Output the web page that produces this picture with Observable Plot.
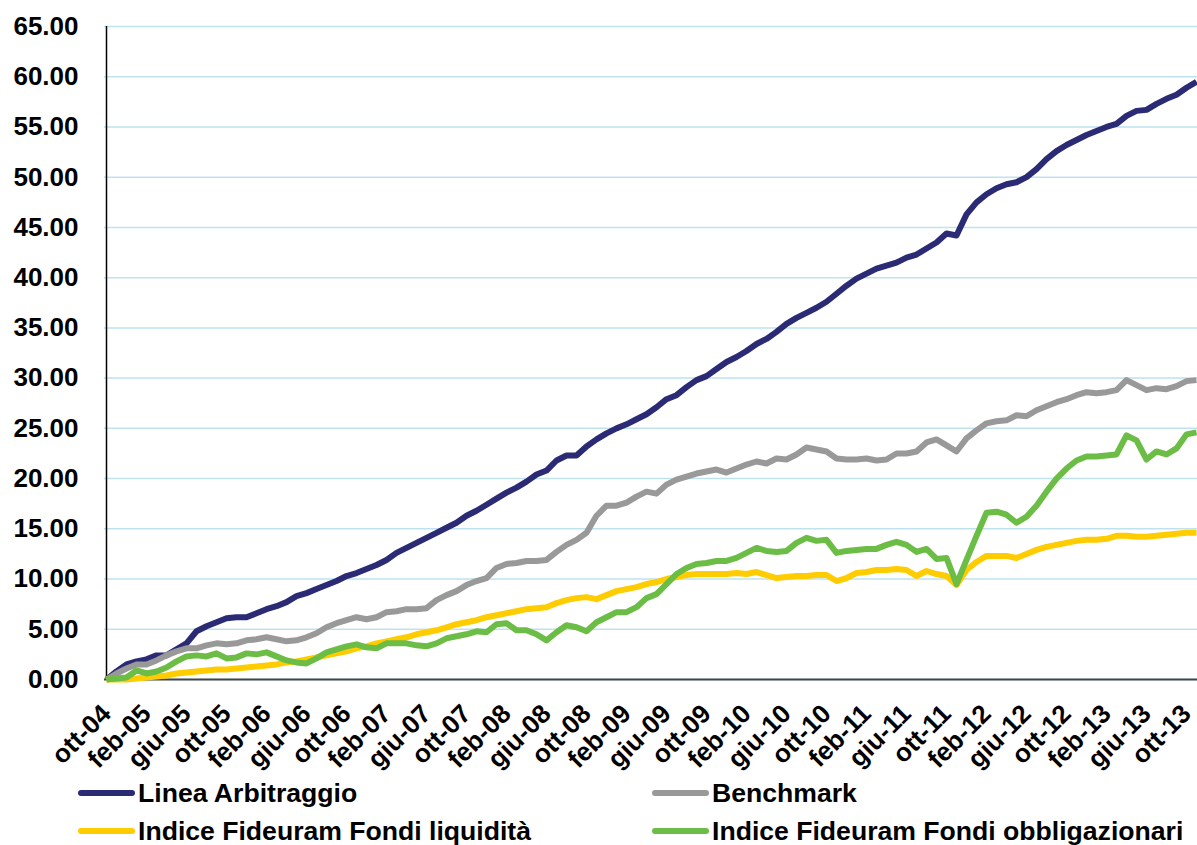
<!DOCTYPE html>
<html><head><meta charset="utf-8">
<script src="https://cdn.jsdelivr.net/npm/d3@7"></script>
<script src="https://cdn.jsdelivr.net/npm/@observablehq/plot@0.6"></script>
<style>
body{margin:0;background:#fff;font-family:"Liberation Sans",Arial,sans-serif;}
#wrap{position:relative;width:1197px;height:845px;overflow:hidden;}
#chart{position:absolute;left:0;top:0;}
.leg{position:absolute;font-weight:bold;font-size:26.6px;color:#000;white-space:nowrap;line-height:26px;}
.sw{position:absolute;height:6px;border-radius:3px;width:57px;}
</style></head><body>
<div id="wrap"><div id="chart"></div><div id="legend"></div></div>
<script>
const monthNames = ["gen","feb","mar","apr","mag","giu","lug","ago","set","ott","nov","dic"];
// monthly categories from ott-04 to nov-13
const months = [];
for (let k = 0; k < 110; k++) {
  const m = (9 + k) % 12, yy = 4 + Math.floor((9 + k) / 12);
  months.push(monthNames[m] + "-" + String(yy).padStart(2, "0"));
}
const tickLabels = ["ott-04","feb-05","giu-05","ott-05","feb-06","giu-06","ott-06","feb-07","giu-07","ott-07",
  "feb-08","giu-08","ott-08","feb-09","giu-09","ott-09","feb-10","giu-10","ott-10","feb-11","giu-11","ott-11",
  "feb-12","giu-12","ott-12","feb-13","giu-13","ott-13"];
const yTicks = [0,5,10,15,20,25,30,35,40,45,50,55,60,65];

const seriesNames = ["Linea Arbitraggio","Benchmark","Indice Fideuram Fondi liquidità","Indice Fideuram Fondi obbligazionari"];
const seriesColors = ["#2b2a74","#999999","#ffcc00","#6cbd45"];

const lineaArbitraggio = [0.0,0.8,1.5,1.8,2.0,2.4,2.4,3.0,3.6,4.8,5.3,5.7,6.1,6.2,6.2,6.6,7.0,7.3,7.7,8.3,
  8.6,9.0,9.4,9.8,10.3,10.6,11.0,11.4,11.9,12.6,13.1,13.6,14.1,14.6,15.1,15.6,16.3,16.8,17.4,18.0,
  18.6,19.1,19.7,20.4,20.8,21.8,22.3,22.3,23.2,23.9,24.5,25.0,25.4,25.9,26.4,27.1,27.9,28.3,29.1,29.8,
  30.2,30.9,31.6,32.1,32.7,33.4,33.9,34.6,35.4,36.0,36.5,37.0,37.6,38.4,39.2,39.9,40.4,40.9,41.2,41.5,
  42.0,42.3,42.9,43.5,44.4,44.2,46.3,47.5,48.3,48.9,49.3,49.5,50.0,50.8,51.8,52.6,53.2,53.7,54.2,54.6,
  55.0,55.3,56.1,56.6,56.7,57.3,57.8,58.2,58.9,59.5];
const benchmark = [0.0,0.6,1.1,1.5,1.5,1.9,2.4,2.8,3.1,3.1,3.4,3.6,3.5,3.6,3.9,4.0,4.2,4.0,3.8,3.9,
  4.2,4.6,5.2,5.6,5.9,6.2,6.0,6.2,6.7,6.8,7.0,7.0,7.1,7.9,8.4,8.8,9.4,9.8,10.1,11.1,
  11.5,11.6,11.8,11.8,11.9,12.7,13.4,13.9,14.6,16.3,17.3,17.3,17.6,18.2,18.7,18.5,19.4,19.9,20.2,20.5,
  20.7,20.9,20.6,21.0,21.4,21.7,21.5,22.0,21.9,22.4,23.1,22.9,22.7,22.0,21.9,21.9,22.0,21.8,21.9,22.5,
  22.5,22.7,23.6,23.9,23.3,22.7,24.0,24.8,25.5,25.7,25.8,26.3,26.2,26.8,27.2,27.6,27.9,28.3,28.6,28.5,
  28.6,28.8,29.8,29.3,28.8,29.0,28.9,29.2,29.7,29.8];
const liquidita = [0.0,0.0,0.0,0.1,0.2,0.3,0.4,0.6,0.7,0.8,0.9,1.0,1.0,1.1,1.2,1.3,1.4,1.5,1.7,1.8,
  2.0,2.2,2.4,2.6,2.8,3.1,3.3,3.6,3.8,4.0,4.2,4.5,4.7,4.9,5.2,5.5,5.7,5.9,6.2,6.4,
  6.6,6.8,7.0,7.1,7.2,7.6,7.9,8.1,8.2,8.0,8.4,8.8,9.0,9.2,9.5,9.7,10.0,10.2,10.4,10.5,
  10.5,10.5,10.5,10.6,10.5,10.7,10.4,10.1,10.2,10.3,10.3,10.4,10.4,9.8,10.1,10.6,10.7,10.9,10.9,11.0,
  10.9,10.3,10.8,10.5,10.3,9.4,10.9,11.7,12.3,12.3,12.3,12.1,12.5,12.9,13.2,13.4,13.6,13.8,13.9,13.9,
  14.0,14.3,14.3,14.2,14.2,14.3,14.4,14.5,14.6,14.6];
const obbligazionari = [0.0,0.1,0.2,0.9,0.6,0.8,1.2,1.8,2.3,2.4,2.3,2.6,2.1,2.2,2.6,2.5,2.7,2.3,1.9,1.7,
  1.6,2.1,2.7,3.0,3.3,3.5,3.2,3.1,3.6,3.6,3.6,3.4,3.3,3.6,4.1,4.3,4.5,4.8,4.7,5.5,
  5.6,4.9,4.9,4.5,3.9,4.7,5.4,5.2,4.8,5.7,6.2,6.7,6.7,7.2,8.1,8.5,9.5,10.5,11.1,11.5,
  11.6,11.8,11.8,12.1,12.6,13.1,12.8,12.7,12.8,13.6,14.1,13.8,13.9,12.6,12.8,12.9,13.0,13.0,13.4,13.7,
  13.4,12.7,13.0,12.0,12.1,9.5,11.9,14.3,16.6,16.7,16.4,15.6,16.2,17.3,18.7,20.0,21.0,21.8,22.2,22.2,
  22.3,22.4,24.3,23.8,21.9,22.7,22.4,23.0,24.4,24.6];
const seriesValues = [lineaArbitraggio, benchmark, liquidita, obbligazionari];

const data = [];
seriesNames.forEach((s, j) => seriesValues[j].forEach((v, i) => data.push({month: months[i], value: v, series: s})));

const chart = Plot.plot({
  width: 1197, height: 775,
  marginLeft: 104, marginRight: 0, marginTop: 26, marginBottom: 96,
  style: {fontFamily: "'Liberation Sans', Arial, sans-serif", fontWeight: "bold", color: "#000", background: "#fff", fontSize: "26px"},
  x: {type: "point", domain: months, padding: 0, label: null},
  y: {domain: [0, 65], label: null},
  color: {domain: seriesNames, range: seriesColors},
  marks: [
    Plot.gridY(yTicks, {stroke: "#bfe2ee", strokeOpacity: 1, strokeWidth: 1.5}),
    Plot.ruleX([months[0]], {stroke: "#000", strokeWidth: 1.5}),
    Plot.ruleY([0], {stroke: "#444", strokeWidth: 2}),
    Plot.line(data, {x: "month", y: "value", z: "series", stroke: "series", strokeWidth: 6, strokeLinejoin: "round", strokeLinecap: "butt"}),
    Plot.axisY(yTicks, {tickSize: 0, tickPadding: 26, tickFormat: d => d.toFixed(2), fontSize: 26, fontWeight: "bold", label: null}),
    Plot.axisX(tickLabels, {tickSize: 0, tickPadding: 30, tickRotate: -45, fontSize: 26, fontWeight: "bold", label: null})
  ]
});
document.getElementById("chart").appendChild(chart);

// legend
const legendPos = [[78, 780], [652, 780], [78, 818], [652, 818]];
const legend = document.getElementById("legend");
seriesNames.forEach((s, j) => {
  const [lx, ly] = legendPos[j];
  const sw = document.createElement("div");
  sw.className = "sw";
  sw.style.left = lx + "px"; sw.style.top = (ly + 10) + "px"; sw.style.background = seriesColors[j];
  legend.appendChild(sw);
  const t = document.createElement("div");
  t.className = "leg";
  t.style.left = (lx + 60) + "px"; t.style.top = ly + "px";
  t.textContent = s;
  legend.appendChild(t);
});
</script>
</body></html>
